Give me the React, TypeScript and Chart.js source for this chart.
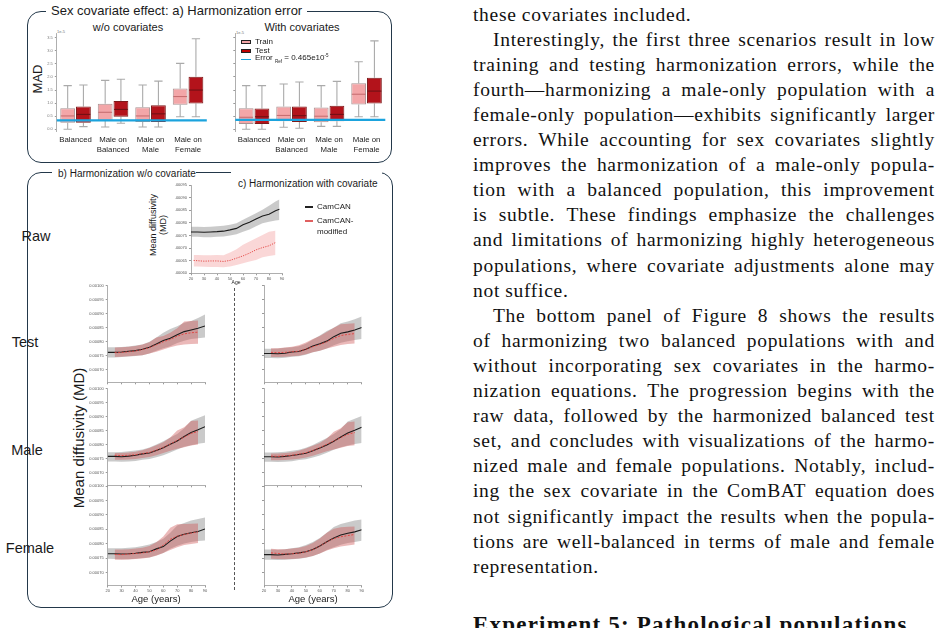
import React, { useEffect, useRef } from "react";
import { Chart, registerables } from "chart.js";

Chart.register(...registerables);

const SANS = "'Liberation Sans', Arial, sans-serif";
const SERIF = "'Liberation Serif', 'Times New Roman', serif";
Chart.defaults.font.family = SANS;

// ---------------- Panel a: MAD (x1e-5) box plots ----------------
const BOX_CATEGORIES = [["Balanced"], ["Male on", "Balanced"], ["Male on", "Male"], ["Male on", "Female"]];
const MAD_TICKS = [0, 0.5, 1, 1.5, 2, 2.5, 3, 3.5];
const MAD_MIN = -0.1;
const MAD_MAX = 3.65;
const MAD_REF_WO = 0.34;
const MAD_REF_WITH = 0.36;

const WO_TRAIN_MIN = [0.0, 0.09, 0.09, 0.48];
const WO_TRAIN_Q1 = [0.25, 0.33, 0.28, 0.94];
const WO_TRAIN_MED = [0.51, 0.65, 0.51, 1.25];
const WO_TRAIN_Q3 = [0.8, 0.98, 0.84, 1.56];
const WO_TRAIN_MAX = [1.67, 1.87, 1.69, 2.52];

const WO_TEST_MIN = [0.1, 0.23, 0.09, 0.48];
const WO_TEST_Q1 = [0.25, 0.48, 0.28, 0.99];
const WO_TEST_MED = [0.57, 0.76, 0.59, 1.5];
const WO_TEST_Q3 = [0.87, 1.08, 0.92, 2.01];
const WO_TEST_MAX = [1.69, 1.91, 1.84, 3.46];

const W_TRAIN_MIN = [0.0, 0.08, 0.11, 0.48];
const W_TRAIN_Q1 = [0.2, 0.31, 0.27, 0.95];
const W_TRAIN_MED = [0.46, 0.53, 0.5, 1.34];
const W_TRAIN_Q3 = [0.8, 0.87, 0.83, 1.76];
const W_TRAIN_MAX = [1.67, 1.73, 1.67, 2.58];

const W_TEST_MIN = [0.0, 0.04, 0.11, 0.48];
const W_TEST_Q1 = [0.2, 0.28, 0.31, 0.99];
const W_TEST_MED = [0.48, 0.52, 0.57, 1.46];
const W_TEST_Q3 = [0.79, 0.87, 0.9, 1.97];
const W_TEST_MAX = [1.67, 1.81, 1.83, 3.38];

// ---------------- Panels b/c: mean diffusivity vs age ----------------
const AGE_TICKS = [20, 30, 40, 50, 60, 70, 80, 90];
const MD_TICKS = [0.0007, 0.00075, 0.0008, 0.00085, 0.0009, 0.00095, 0.001];
const RAW_MD_TICKS = [0.0006, 0.00065, 0.0007, 0.00075, 0.0008, 0.00085, 0.0009, 0.00095];

const AGES = [20, 25, 30, 35, 40, 45, 50, 55, 60, 65, 70, 75, 80, 85, 90];
const AGES_MOD = [25, 30, 35, 40, 45, 50, 55, 60, 65, 70, 75, 80, 85];
const RAW_AGES = [20, 25, 30, 35, 40, 45, 50, 55, 60, 65, 70, 75, 80, 85, 88];
const RAW_AGES_MOD = [22, 25, 30, 35, 40, 45, 50, 55, 60, 65, 70, 75, 80, 85];

// Raw
const RAW_MEAN = [0.000764, 0.000764, 0.000763, 0.000764, 0.000765, 0.000767, 0.000772, 0.000778, 0.000792, 0.000802, 0.000815, 0.000827, 0.000834, 0.000848, 0.000854];
const RAW_HI = [0.000785, 0.000785, 0.000784, 0.000785, 0.000786, 0.000788, 0.000792, 0.000798, 0.000812, 0.000825, 0.000838, 0.000852, 0.000868, 0.000885, 0.000893];
const RAW_LO = [0.000745, 0.000745, 0.000743, 0.000743, 0.000745, 0.000746, 0.00075, 0.000755, 0.000765, 0.000774, 0.000786, 0.000798, 0.000804, 0.000809, 0.000811];
const RAW_MOD = [0.000651, 0.00065, 0.000648, 0.000649, 0.000649, 0.000647, 0.000651, 0.00066, 0.000669, 0.00068, 0.000693, 0.000702, 0.000709, 0.000722];
const RAW_MOD_HI = [0.000673, 0.000673, 0.000672, 0.000672, 0.000673, 0.000672, 0.000682, 0.000695, 0.000713, 0.000726, 0.000739, 0.000752, 0.000765, 0.000769];
const RAW_MOD_LO = [0.000627, 0.000627, 0.000626, 0.000625, 0.000625, 0.000624, 0.000627, 0.000633, 0.00064, 0.000647, 0.000653, 0.000664, 0.000669, 0.000673];

// Test, w/o covariate
const TEST_WO_MEAN = [0.000762, 0.000762, 0.000763, 0.000766, 0.000768, 0.000773, 0.00078, 0.000792, 0.000804, 0.000812, 0.000825, 0.000836, 0.000842, 0.000848, 0.000856];
const TEST_WO_HI = [0.00078, 0.00078, 0.000781, 0.000783, 0.000786, 0.00079, 0.0008, 0.000815, 0.000832, 0.000845, 0.000855, 0.000868, 0.000874, 0.000885, 0.000897];
const TEST_WO_LO = [0.000744, 0.000744, 0.000745, 0.000747, 0.000749, 0.000752, 0.000758, 0.000768, 0.000777, 0.000784, 0.000795, 0.000803, 0.00081, 0.000812, 0.000815];
const TEST_WO_MOD = [0.000761, 0.000762, 0.000764, 0.000767, 0.000772, 0.000779, 0.000789, 0.0008, 0.000808, 0.00082, 0.000828, 0.000832, 0.000834];
const TEST_WO_MOD_HI = [0.000779, 0.00078, 0.000782, 0.000785, 0.00079, 0.000798, 0.000815, 0.00082, 0.000832, 0.000848, 0.000872, 0.000874, 0.000876];
const TEST_WO_MOD_LO = [0.000745, 0.000746, 0.000748, 0.00075, 0.000752, 0.000758, 0.000764, 0.000772, 0.00078, 0.000786, 0.00079, 0.000792, 0.000793];

// Test, with covariate
const TEST_W_MEAN = [0.000758, 0.000758, 0.000757, 0.000759, 0.000763, 0.000765, 0.000773, 0.000785, 0.000793, 0.000802, 0.000818, 0.00083, 0.000835, 0.000842, 0.000851];
const TEST_W_HI = [0.000775, 0.000775, 0.000776, 0.000778, 0.00078, 0.000784, 0.000793, 0.000808, 0.000822, 0.000838, 0.00085, 0.000866, 0.000872, 0.00088, 0.00089];
const TEST_W_LO = [0.000742, 0.000742, 0.000741, 0.000743, 0.000746, 0.000748, 0.000753, 0.000762, 0.000768, 0.000776, 0.000787, 0.000796, 0.000802, 0.000806, 0.00081];
const TEST_W_MOD = [0.000762, 0.000761, 0.000762, 0.000764, 0.000766, 0.000773, 0.000782, 0.00079, 0.0008, 0.000812, 0.000822, 0.000826, 0.000829];
const TEST_W_MOD_HI = [0.000777, 0.000777, 0.000779, 0.000782, 0.000787, 0.000797, 0.00081, 0.00082, 0.000835, 0.00085, 0.000862, 0.000864, 0.000866];
const TEST_W_MOD_LO = [0.000745, 0.000745, 0.000746, 0.000748, 0.00075, 0.000755, 0.000762, 0.000768, 0.000776, 0.000782, 0.000788, 0.000792, 0.000794];

// Male, w/o covariate
const MALE_WO_MEAN = [0.000758, 0.000758, 0.000757, 0.000759, 0.000762, 0.000767, 0.00077, 0.000779, 0.000789, 0.000801, 0.000813, 0.000829, 0.000843, 0.000853, 0.000864];
const MALE_WO_HI = [0.000773, 0.000773, 0.000774, 0.000776, 0.000779, 0.000783, 0.00079, 0.0008, 0.000812, 0.000825, 0.000838, 0.000858, 0.000885, 0.000895, 0.000905];
const MALE_WO_LO = [0.00074, 0.00074, 0.000739, 0.00074, 0.000742, 0.000746, 0.000749, 0.000755, 0.000762, 0.000772, 0.000783, 0.000792, 0.000798, 0.000803, 0.000807];
const MALE_WO_MOD = [0.000762, 0.000761, 0.000762, 0.000764, 0.000768, 0.000772, 0.00078, 0.00079, 0.000802, 0.000815, 0.000827, 0.00084, 0.000847];
const MALE_WO_MOD_HI = [0.00077, 0.00077, 0.000772, 0.000775, 0.00078, 0.000788, 0.000798, 0.000808, 0.000825, 0.00085, 0.000862, 0.000884, 0.000886];
const MALE_WO_MOD_LO = [0.000746, 0.000746, 0.000747, 0.000749, 0.000752, 0.000756, 0.000762, 0.00077, 0.000778, 0.000785, 0.000791, 0.000797, 0.0008];

// Male, with covariate
const MALE_W_MEAN = [0.000757, 0.000757, 0.000756, 0.000758, 0.000761, 0.000765, 0.000769, 0.000778, 0.000788, 0.000799, 0.000812, 0.000827, 0.000841, 0.000851, 0.000862];
const MALE_W_HI = [0.000772, 0.000772, 0.000773, 0.000775, 0.000778, 0.000782, 0.000789, 0.000799, 0.000811, 0.000824, 0.000838, 0.000856, 0.000882, 0.000892, 0.000902];
const MALE_W_LO = [0.000739, 0.000739, 0.000738, 0.000739, 0.000741, 0.000745, 0.000748, 0.000754, 0.000761, 0.000771, 0.000782, 0.000791, 0.000797, 0.000802, 0.000806];
const MALE_W_MOD = [0.000759, 0.000758, 0.00076, 0.000762, 0.000766, 0.000771, 0.000779, 0.000789, 0.000801, 0.000813, 0.000825, 0.000837, 0.000843];
const MALE_W_MOD_HI = [0.000768, 0.000768, 0.00077, 0.000773, 0.000778, 0.000786, 0.000796, 0.000806, 0.000822, 0.000846, 0.000858, 0.00088, 0.000882];
const MALE_W_MOD_LO = [0.000744, 0.000744, 0.000745, 0.000747, 0.00075, 0.000754, 0.00076, 0.000768, 0.000776, 0.000783, 0.000789, 0.000795, 0.000798];

// Female, w/o covariate
const FEMALE_WO_MEAN = [0.000765, 0.000765, 0.000764, 0.000765, 0.000767, 0.00077, 0.000772, 0.000782, 0.00079, 0.000809, 0.000825, 0.000833, 0.000838, 0.000842, 0.000851];
const FEMALE_WO_HI = [0.000784, 0.000784, 0.000784, 0.000786, 0.000788, 0.000792, 0.000797, 0.000806, 0.000817, 0.000838, 0.000863, 0.000872, 0.00088, 0.000886, 0.000891];
const FEMALE_WO_LO = [0.000748, 0.000747, 0.000746, 0.000746, 0.000748, 0.00075, 0.000752, 0.00076, 0.000768, 0.000782, 0.000793, 0.000801, 0.000806, 0.000809, 0.000811];
const FEMALE_WO_MOD = [0.000763, 0.000762, 0.000764, 0.000766, 0.000768, 0.000772, 0.000778, 0.000795, 0.000815, 0.000826, 0.000832, 0.000837, 0.000841];
const FEMALE_WO_MOD_HI = [0.00078, 0.00078, 0.000781, 0.000783, 0.000786, 0.000792, 0.000805, 0.000825, 0.000855, 0.000867, 0.000868, 0.000869, 0.00087];
const FEMALE_WO_MOD_LO = [0.000744, 0.000744, 0.000745, 0.000747, 0.000749, 0.000752, 0.000758, 0.000768, 0.000778, 0.000788, 0.000795, 0.000799, 0.000802];

// Female, with covariate
const FEMALE_W_MEAN = [0.000762, 0.000762, 0.000761, 0.000763, 0.000765, 0.000768, 0.000772, 0.00078, 0.000792, 0.000807, 0.00082, 0.00083, 0.000836, 0.000841, 0.000848];
const FEMALE_W_HI = [0.00078, 0.00078, 0.000779, 0.000781, 0.000784, 0.000788, 0.000795, 0.000806, 0.00082, 0.000838, 0.000858, 0.000868, 0.000874, 0.00088, 0.000884];
const FEMALE_W_LO = [0.000744, 0.000744, 0.000743, 0.000744, 0.000746, 0.000748, 0.000751, 0.000757, 0.000766, 0.000778, 0.000788, 0.000796, 0.000802, 0.000806, 0.00081];
const FEMALE_W_MOD = [0.000768, 0.000766, 0.000764, 0.000765, 0.000767, 0.000772, 0.000779, 0.000792, 0.000806, 0.000818, 0.000824, 0.000828, 0.000832];
const FEMALE_W_MOD_HI = [0.000782, 0.000781, 0.000781, 0.000783, 0.000786, 0.000792, 0.000802, 0.000818, 0.000838, 0.000852, 0.000857, 0.000859, 0.00086];
const FEMALE_W_MOD_LO = [0.000748, 0.000747, 0.000746, 0.000747, 0.000749, 0.000752, 0.000757, 0.000766, 0.000776, 0.000784, 0.00079, 0.000794, 0.000797];

// ---------------- Body text ----------------
const BODY_LINES = [
  "these covariates included.",
  "Interestingly, the first three scenarios result in low",
  "training and testing harmonization errors, while the",
  "fourth\u2014harmonizing a male-only population with a",
  "female-only population\u2014exhibits significantly larger",
  "errors. While accounting for sex covariates slightly",
  "improves the harmonization of a male-only popula-",
  "tion with a balanced population, this improvement",
  "is subtle. These findings emphasize the challenges",
  "and limitations of harmonizing highly heterogeneous",
  "populations, where covariate adjustments alone may",
  "not suffice.",
  "The bottom panel of Figure 8 shows the results",
  "of harmonizing two balanced populations with and",
  "without incorporating sex covariates in the harmo-",
  "nization equations. The progression begins with the",
  "raw data, followed by the harmonized balanced test",
  "set, and concludes with visualizations of the harmo-",
  "nized male and female populations. Notably, includ-",
  "ing the sex covariate in the ComBAT equation does",
  "not significantly impact the results when the popula-",
  "tions are well-balanced in terms of male and female",
  "representation.",
];
const INDENT_LINES = [1, 12];
const LAST_LINES = [0, 11, 22];

// ---------------- Colours ----------------
const PANEL_BORDER = "#23384a";
const TRAIN_FILL = "#f3a6a8";
const TRAIN_EDGE = "#a89292";
const TRAIN_MED = "#c46a6c";
const TEST_FILL = "#b3131b";
const TEST_EDGE = "#7c1a1a";
const TEST_MED = "#6a1014";
const WHISKER = "#aaaaaa";
const REF_BLUE = "#1ba3dd";
const GREY_BAND = "rgba(150,150,150,0.5)";
const RED_BAND = "rgba(205,80,80,0.4)";
const RAW_RED_BAND = "rgba(240,140,140,0.35)";
const AXIS_GREY = "#9a9a9a";

// ---------------- Chart wrapper ----------------
function ChartCanvas({ rect, axisW, axisH, padTop = 5, padRight = 6, make }: any) {
  const ref = useRef<HTMLCanvasElement>(null);
  const cl = Math.floor(rect.l - axisW);
  const ct = Math.floor(rect.t - padTop);
  const cw = Math.ceil(rect.r + padRight) - cl;
  const ch = Math.ceil(rect.b + axisH) - ct;
  useEffect(() => {
    const cfg = make();
    cfg.options.layout = { padding: { left: 0, top: rect.t - ct, right: cl + cw - rect.r, bottom: 0 } };
    cfg.options.scales.x.afterFit = (s: any) => { s.height = ct + ch - rect.b; };
    cfg.options.scales.y.afterFit = (s: any) => { s.width = rect.l - cl; };
    const chart = new Chart(ref.current as HTMLCanvasElement, cfg);
    return () => chart.destroy();
  }, []);
  return (
    <canvas ref={ref} width={cw} height={ch}
      style={{ position: "absolute", left: cl, top: ct, width: cw, height: ch }} />
  );
}

// ---------------- Box plot chart ----------------
function boxConfig(train: any, test: any, refValue: number, showYLabels: boolean) {
  const stats = [train, test];
  const meds = [TRAIN_MED, TEST_MED];
  const plugin = {
    id: "boxWhiskers",
    beforeDatasetsDraw(chart: any) {
      const ctx = chart.ctx;
      const y = chart.scales.y;
      stats.forEach((s: any, d: number) => {
        chart.getDatasetMeta(d).data.forEach((el: any, i: number) => {
          const x = el.x;
          const cap = el.width * 0.28;
          const yMax = y.getPixelForValue(s.max[i]);
          const yMin = y.getPixelForValue(s.min[i]);
          ctx.save();
          ctx.strokeStyle = WHISKER;
          ctx.lineWidth = 1.1;
          ctx.beginPath();
          ctx.moveTo(x, yMax); ctx.lineTo(x, y.getPixelForValue(s.q3[i]));
          ctx.moveTo(x, y.getPixelForValue(s.q1[i])); ctx.lineTo(x, yMin);
          ctx.moveTo(x - cap, yMax); ctx.lineTo(x + cap, yMax);
          ctx.moveTo(x - cap, yMin); ctx.lineTo(x + cap, yMin);
          ctx.stroke();
          ctx.restore();
        });
      });
    },
    afterDatasetsDraw(chart: any) {
      const ctx = chart.ctx;
      const y = chart.scales.y;
      stats.forEach((s: any, d: number) => {
        chart.getDatasetMeta(d).data.forEach((el: any, i: number) => {
          const ym = y.getPixelForValue(s.med[i]);
          ctx.save();
          ctx.strokeStyle = meds[d];
          ctx.lineWidth = 1;
          ctx.beginPath();
          ctx.moveTo(el.x - el.width / 2 + 0.5, ym);
          ctx.lineTo(el.x + el.width / 2 - 0.5, ym);
          ctx.stroke();
          ctx.restore();
        });
      });
      const ca = chart.chartArea;
      const yr = y.getPixelForValue(refValue);
      ctx.save();
      ctx.strokeStyle = REF_BLUE;
      ctx.lineWidth = 2.2;
      ctx.beginPath();
      ctx.moveTo(ca.left, yr);
      ctx.lineTo(ca.right, yr);
      ctx.stroke();
      ctx.restore();
    },
  };
  return {
    type: "bar",
    data: {
      labels: BOX_CATEGORIES,
      datasets: [
        {
          label: "Train",
          data: train.q1.map((q: number, i: number) => [q, train.q3[i]]),
          backgroundColor: TRAIN_FILL, borderColor: TRAIN_EDGE, borderWidth: 1, borderSkipped: false,
          categoryPercentage: 0.84, barPercentage: 0.94,
        },
        {
          label: "Test",
          data: test.q1.map((q: number, i: number) => [q, test.q3[i]]),
          backgroundColor: TEST_FILL, borderColor: TEST_EDGE, borderWidth: 1, borderSkipped: false,
          categoryPercentage: 0.84, barPercentage: 0.94,
        },
      ],
    },
    options: {
      responsive: false, animation: false, devicePixelRatio: 1,
      plugins: { legend: { display: false }, tooltip: { enabled: false } },
      scales: {
        x: {
          grid: { display: false, drawTicks: false }, border: { display: false },
          ticks: { font: { size: 7.8, family: SANS, lineHeight: 1.28 }, color: "#222", padding: 3, maxRotation: 0, autoSkip: false },
        },
        y: {
          min: MAD_MIN, max: MAD_MAX,
          afterBuildTicks: (s: any) => { s.ticks = MAD_TICKS.map((v) => ({ value: v })); },
          ticks: { display: showYLabels, font: { size: 4 }, color: "#777", padding: 2, callback: (v: any) => Number(v).toFixed(1) },
          grid: { display: true, drawOnChartArea: false, tickLength: 2, color: AXIS_GREY },
          border: { color: AXIS_GREY, width: 0.8 },
        },
      },
    },
    plugins: [plugin],
  };
}

// ---------------- Band line chart ----------------
function xy(xs: number[], ys: number[]) {
  return xs.map((x, i) => ({ x, y: ys[i] }));
}

function bandConfig(o: any) {
  const thin = { pointRadius: 0, borderWidth: 0, tension: 0 };
  return {
    type: "line",
    data: {
      datasets: [
        { ...thin, data: xy(o.ages, o.hi), fill: "+1", backgroundColor: GREY_BAND, order: 6 },
        { ...thin, data: xy(o.ages, o.lo), fill: false, order: 5 },
        { ...thin, data: xy(o.modAges, o.modHi), fill: "+1", backgroundColor: o.redBand, order: 4 },
        { ...thin, data: xy(o.modAges, o.modLo), fill: false, order: 3 },
        { data: xy(o.ages, o.mean), borderColor: "#1c1c1c", borderWidth: 1.1, pointRadius: 0, fill: false, tension: 0, order: 2 },
        { data: xy(o.modAges, o.mod), borderColor: "#e2403c", borderWidth: 0.9, borderDash: o.dash, pointRadius: 0, fill: false, tension: 0, order: 1 },
      ],
    },
    options: {
      responsive: false, animation: false, devicePixelRatio: 1,
      plugins: { legend: { display: false }, tooltip: { enabled: false } },
      scales: {
        x: {
          type: "linear", min: 20, max: 90,
          afterBuildTicks: (s: any) => { s.ticks = AGE_TICKS.map((v) => ({ value: v })); },
          ticks: { display: o.xLabels, font: { size: 4 }, color: "#555", padding: 1, maxRotation: 0, autoSkip: false },
          grid: { display: true, drawOnChartArea: false, tickLength: 2, color: AXIS_GREY },
          border: { color: AXIS_GREY, width: 0.8 },
        },
        y: {
          type: "linear", min: o.yMin, max: o.yMax,
          afterBuildTicks: (s: any) => { s.ticks = o.yTicks.map((v: number) => ({ value: v })); },
          ticks: { display: o.yLabels, font: { size: 4 }, color: "#555", padding: 2, callback: (v: any) => Number(v).toFixed(5) },
          grid: { display: true, drawOnChartArea: false, tickLength: 2, color: AXIS_GREY },
          border: { color: AXIS_GREY, width: 0.8 },
        },
      },
    },
  };
}

// ---------------- Small text helper ----------------
function T({ x, y, size, children, anchor = "center", rotate = 0, color = "#1a1a1a", weight = 400, lh = 1.15 }: any) {
  const tx = anchor === "center" ? "-50%" : anchor === "end" ? "-100%" : "0";
  return (
    <div style={{
      position: "absolute", left: x, top: y, fontSize: size, lineHeight: lh, color, fontWeight: weight,
      whiteSpace: "pre", textAlign: "center",
      transform: `translate(${tx}, -50%) rotate(${rotate}deg)`, transformOrigin: anchor === "center" ? "50% 50%" : "0 50%",
    }}>{children}</div>
  );
}

const COL_L = { l: 107.7, r: 205 };
const COL_R = { l: 264, r: 361.7 };
const ROW_TEST = { t: 285.7, b: 382.3 };
const ROW_MALE = { t: 388.5, b: 485.3 };
const ROW_FEMALE = { t: 486, b: 585.5 };

export default function App() {
  const woTrain = { min: WO_TRAIN_MIN, q1: WO_TRAIN_Q1, med: WO_TRAIN_MED, q3: WO_TRAIN_Q3, max: WO_TRAIN_MAX };
  const woTest = { min: WO_TEST_MIN, q1: WO_TEST_Q1, med: WO_TEST_MED, q3: WO_TEST_Q3, max: WO_TEST_MAX };
  const wTrain = { min: W_TRAIN_MIN, q1: W_TRAIN_Q1, med: W_TRAIN_MED, q3: W_TRAIN_Q3, max: W_TRAIN_MAX };
  const wTest = { min: W_TEST_MIN, q1: W_TEST_Q1, med: W_TEST_MED, q3: W_TEST_Q3, max: W_TEST_MAX };

  const base = { ages: AGES, modAges: AGES_MOD, yMin: 0.000655, yMax: 0.001, yTicks: MD_TICKS, redBand: RED_BAND, dash: [2, 1.5] };
  const rows = [
    { row: ROW_TEST, xl: false, wo: [TEST_WO_MEAN, TEST_WO_HI, TEST_WO_LO, TEST_WO_MOD, TEST_WO_MOD_HI, TEST_WO_MOD_LO], w: [TEST_W_MEAN, TEST_W_HI, TEST_W_LO, TEST_W_MOD, TEST_W_MOD_HI, TEST_W_MOD_LO] },
    { row: ROW_MALE, xl: false, wo: [MALE_WO_MEAN, MALE_WO_HI, MALE_WO_LO, MALE_WO_MOD, MALE_WO_MOD_HI, MALE_WO_MOD_LO], w: [MALE_W_MEAN, MALE_W_HI, MALE_W_LO, MALE_W_MOD, MALE_W_MOD_HI, MALE_W_MOD_LO] },
    { row: ROW_FEMALE, xl: true, wo: [FEMALE_WO_MEAN, FEMALE_WO_HI, FEMALE_WO_LO, FEMALE_WO_MOD, FEMALE_WO_MOD_HI, FEMALE_WO_MOD_LO], w: [FEMALE_W_MEAN, FEMALE_W_HI, FEMALE_W_LO, FEMALE_W_MOD, FEMALE_W_MOD_HI, FEMALE_W_MOD_LO] },
  ];
  const seriesOpts = (s: number[][]) => ({ mean: s[0], hi: s[1], lo: s[2], mod: s[3], modHi: s[4], modLo: s[5] });

  return (
    <div style={{ position: "absolute", left: 0, top: 0, width: 945, height: 628, overflow: "hidden", background: "#fff", fontFamily: SANS }}>
      {/* ---------- Panel a ---------- */}
      <div style={{ position: "absolute", left: 27, top: 11, width: 365, height: 152, boxSizing: "border-box", border: `1.5px solid ${PANEL_BORDER}`, borderRadius: 14 }} />
      <div style={{ position: "absolute", left: 46, top: 2, height: 18, padding: "0 5px", background: "#fff", fontSize: 13, lineHeight: "18px", color: "#1a1a1a", whiteSpace: "nowrap" }}>
        Sex covariate effect: a) Harmonization error
      </div>
      <T x={128} y={27} size={11}>w/o covariates</T>
      <T x={302} y={27} size={11}>With covariates</T>
      <T x={38} y={79} size={13} rotate={-90}>MAD</T>
      <T x={57} y={32} size={4} anchor="start" color="#777">1e-5</T>
      <T x={236} y={33} size={4} anchor="start" color="#777">1e-5</T>

      <ChartCanvas rect={{ l: 56.8, r: 206.8, t: 33.8, b: 131.9 }} axisW={14} axisH={26} padRight={3}
        make={() => boxConfig(woTrain, woTest, MAD_REF_WO, true)} />
      <ChartCanvas rect={{ l: 235.3, r: 385.3, t: 33.8, b: 131.9 }} axisW={5} axisH={26} padRight={3}
        make={() => boxConfig(wTrain, wTest, MAD_REF_WITH, false)} />

      {/* legend of right box chart */}
      <div style={{ position: "absolute", left: 241, top: 39.5, width: 10, height: 4.5, background: TRAIN_FILL, border: "1px solid #222", boxSizing: "border-box" }} />
      <T x={255} y={41.7} size={8} anchor="start">Train</T>
      <div style={{ position: "absolute", left: 241, top: 48.5, width: 10, height: 4.5, background: "#c00000", border: "1px solid #222", boxSizing: "border-box" }} />
      <T x={255} y={50.7} size={8} anchor="start">Test</T>
      <div style={{ position: "absolute", left: 241, top: 58.5, width: 10, height: 1.6, background: REF_BLUE }} />
      <div style={{ position: "absolute", left: 255, top: 59.3, transform: "translateY(-50%)", fontSize: 8, lineHeight: 1, whiteSpace: "nowrap", color: "#1a1a1a" }}>
        Error <sub style={{ fontSize: 4.5 }}>Ref</sub> = 0.465e10<sup style={{ fontSize: 4.5 }}>-5</sup>
      </div>

      {/* ---------- Panels b / c ---------- */}
      <div style={{ position: "absolute", left: 27, top: 172, width: 366, height: 436, boxSizing: "border-box", border: `1.5px solid ${PANEL_BORDER}`, borderRadius: 14 }} />
      <div style={{ position: "absolute", left: 52, top: 166, width: 144, height: 15, background: "#fff" }} />
      <T x={58} y={173.5} size={10} anchor="start">b) Harmonization w/o covariate</T>
      <div style={{ position: "absolute", left: 231, top: 166, width: 151, height: 24, background: "#fff" }} />
      <T x={238} y={184} size={10} anchor="start">c) Harmonization with covariate</T>

      <T x={36} y={236} size={14.5}>Raw</T>
      <T x={25} y={342} size={14.5}>Test</T>
      <T x={27} y={450} size={14.5}>Male</T>
      <T x={30} y={548} size={14.5}>Female</T>
      <T x={79} y={438} size={15} rotate={-90}>Mean diffusivity (MD)</T>

      <div style={{ position: "absolute", left: 233.5, top: 288, height: 302, borderLeft: "1.3px dashed #555" }} />

      {/* Raw chart */}
      <ChartCanvas rect={{ l: 191, r: 282, t: 185, b: 273.3 }} axisW={16} axisH={7}
        make={() => bandConfig({
          ages: RAW_AGES, modAges: RAW_AGES_MOD, mean: RAW_MEAN, hi: RAW_HI, lo: RAW_LO,
          mod: RAW_MOD, modHi: RAW_MOD_HI, modLo: RAW_MOD_LO, yMin: 0.0006, yMax: 0.00095, yTicks: RAW_MD_TICKS,
          redBand: RAW_RED_BAND, dash: [1.2, 1.2], xLabels: true, yLabels: true,
        })} />
      <T x={159} y={225} size={9} rotate={-90} lh={1.1}>{"Mean diffusivity\n(MD)"}</T>
      <T x={236} y={282.5} size={5}>Age</T>
      <div style={{ position: "absolute", left: 305, top: 206, width: 8, height: 1.8, background: "#222" }} />
      <T x={317} y={207} size={8} anchor="start">CamCAN</T>
      <div style={{ position: "absolute", left: 305, top: 220.3, width: 8, height: 1.4, background: "#e06060" }} />
      <T x={317} y={221} size={8} anchor="start">CamCAN-</T>
      <T x={317} y={231.5} size={8} anchor="start">modified</T>

      {rows.map((r, k) => (
        <React.Fragment key={k}>
          <ChartCanvas rect={{ ...COL_L, ...r.row }} axisW={20} axisH={r.xl ? 7 : 4}
            make={() => bandConfig({ ...base, ...seriesOpts(r.wo), xLabels: r.xl, yLabels: true })} />
          <ChartCanvas rect={{ ...COL_R, ...r.row }} axisW={5} axisH={r.xl ? 7 : 4}
            make={() => bandConfig({ ...base, ...seriesOpts(r.w), xLabels: r.xl, yLabels: false })} />
        </React.Fragment>
      ))}
      <T x={156} y={599} size={9.5}>Age (years)</T>
      <T x={313} y={599} size={9.5}>Age (years)</T>

      {/* ---------- Body text ---------- */}
      {BODY_LINES.map((ln, i) => {
        const indent = INDENT_LINES.includes(i) ? 20 : 0;
        const last = LAST_LINES.includes(i);
        return (
          <div key={i} style={{
            position: "absolute", left: 473 + indent, top: 1.5 + 25.1 * i, width: 462 - indent, height: 25.1,
            lineHeight: "25.1px", fontFamily: SERIF, fontSize: 19.5, letterSpacing: "0.7px", color: "#111", display: "flex",
            justifyContent: last ? "flex-start" : "space-between", columnGap: last ? "0.27em" : 0, whiteSpace: "nowrap",
          }}>
            {ln.split(" ").map((w, j) => <span key={j}>{w}</span>)}
          </div>
        );
      })}
      <div style={{ position: "absolute", left: 473, top: 613, fontFamily: SERIF, fontSize: 23, fontWeight: 700, letterSpacing: "1.2px", lineHeight: "23px", whiteSpace: "nowrap", color: "#111" }}>
        Experiment 5: Pathological populations
      </div>
    </div>
  );
}
